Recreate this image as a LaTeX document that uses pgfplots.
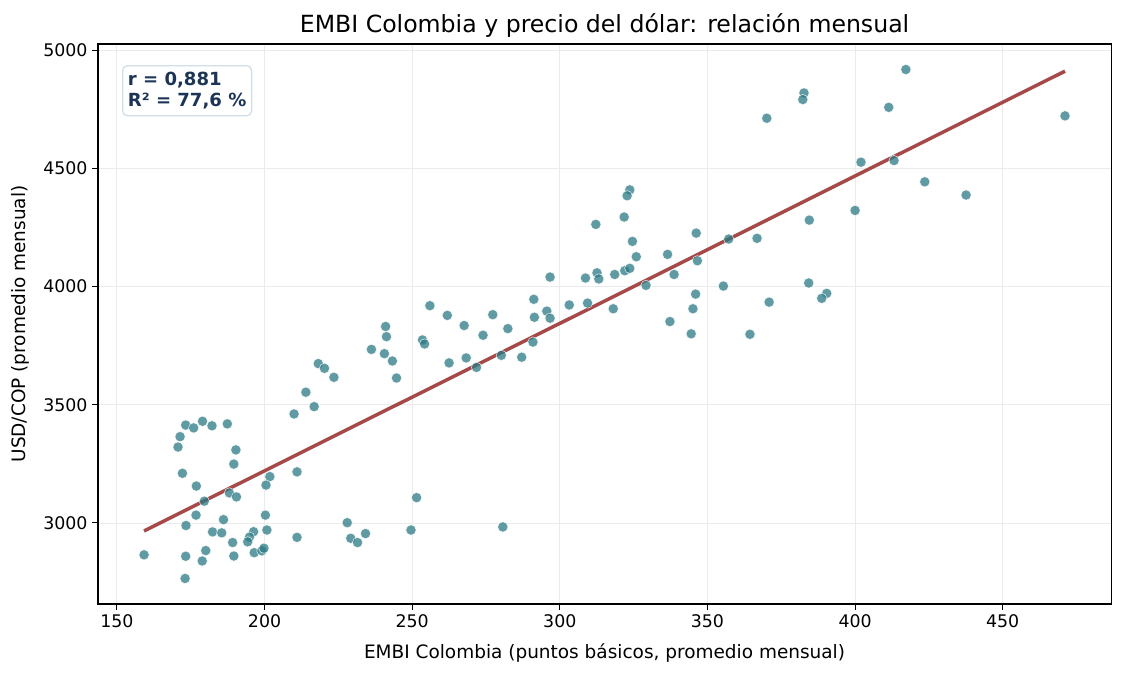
\documentclass[border=0pt]{standalone}
\usepackage{pgfplots}
\pgfplotsset{compat=1.18}
\usepackage{fontspec}
\setmainfont{DejaVu Sans}
\definecolor{pt}{HTML}{2B7A84}
\definecolor{fitc}{HTML}{A64949}
\definecolor{txtc}{HTML}{1C3557}
\definecolor{boxc}{HTML}{D0DEEA}
\definecolor{gridc}{HTML}{EBEBEB}
\begin{document}
\begin{tikzpicture}[x=1pt,y=1pt]
\begin{axis}[
  at={(0,0)}, anchor=south west,
  scale only axis=true,
  width=729.4pt, height=403.2pt,
  xmin=143.6, xmax=486.7, ymin=2657, ymax=5026,
  xtick={150,200,250,300,350,400,450},
  ytick={3000,3500,4000,4500,5000},
  /pgf/number format/assume math mode=true,
  /pgf/number format/set thousands separator={},
  tick label style={font=\fontsize{12.5}{15}\selectfont},
  tick align=outside, major tick length=4pt,
  tick style={black, line width=0.7pt},
  xtick pos=bottom, ytick pos=left,
  grid=major, major grid style={gridc, line width=0.6pt},
  axis line style={black, line width=0.8pt},
  title={EMBI Colombia y precio del dólar: relación mensual},
  title style={font=\fontsize{17}{20}\selectfont, yshift=-5pt},
  xlabel={EMBI Colombia (puntos básicos, promedio mensual)},
  ylabel={USD/COP (promedio mensual)},
  label style={font=\fontsize{13.3}{16}\selectfont},
  xlabel style={yshift=-4.5pt},
  ylabel style={yshift=3pt},
  clip=false,
]
\addplot[only marks, mark=*, mark size=3.7pt,
  mark options={fill=pt, fill opacity=0.75, draw=white, draw opacity=0.8, line width=0.4pt}]
coordinates {
(159.2,2865)(173.3,3414)(176.0,3402)(179.0,3430)(182.2,3411)(187.4,3419)
(171.4,3365)(170.7,3321)(190.3,3309)(189.6,3249)(172.2,3210)(176.9,3156)
(179.6,3092)(188.1,3127)(190.5,3110)(201.8,3196)(200.5,3160)(211.0,3216)
(210.0,3461)(176.8,3033)(173.4,2989)(186.1,3014)(182.4,2962)(185.5,2958)
(200.3,3033)(200.8,2970)(196.3,2963)(194.9,2940)(194.3,2920)(189.2,2917)
(180.1,2883)(173.3,2859)(178.9,2839)(189.6,2860)(196.5,2874)(199.1,2882)
(199.8,2893)(173.1,2765)(211.0,2939)
(256.0,3919)(241.0,3831)(241.3,3788)(236.2,3734)(240.6,3716)(243.3,3685)
(244.7,3613)(253.5,3774)(254.2,3757)(218.2,3674)(220.3,3654)(223.5,3616)
(214.0,3553)(216.8,3492)(251.5,3107)(228.0,3001)(229.2,2935)(231.5,2917)
(234.2,2955)(249.6,2970)
(323.7,4409)(322.8,4384)(312.2,4263)(321.8,4294)(324.6,4191)(325.9,4126)
(346.2,4226)(336.5,4136)(346.6,4109)(338.7,4051)(329.2,4005)(322.0,4067)
(323.7,4077)(318.6,4051)(312.6,4058)(313.2,4032)(308.7,4036)(296.7,4040)
(346.0,3968)(345.1,3906)(344.5,3800)(337.3,3852)(318.1,3906)(309.4,3930)
(303.2,3922)(291.2,3946)(295.6,3896)(296.7,3866)(291.4,3870)(290.9,3765)
(287.1,3701)(280.2,3709)(282.4,3822)(277.3,3881)(274.0,3794)(267.6,3835)
(261.9,3878)(262.5,3677)(268.3,3698)(271.8,3658)
(417.2,4918)(382.7,4819)(382.3,4791)(370.1,4712)(411.4,4758)(471.1,4722)
(402.0,4526)(413.2,4533)(423.6,4443)(437.6,4387)(400.0,4322)(384.5,4281)
(357.2,4201)(366.8,4204)(355.4,4002)(384.3,4015)(390.4,3971)(388.7,3950)
(370.9,3934)(364.4,3798)(280.7,2983)
};
\addplot[fitc, line width=2.5pt, no marks] coordinates {(159.2,2966)(471.1,4911)};
\node[anchor=north west, draw=boxc, line width=0.9pt, fill=white, rounded corners=3.5pt,
  inner xsep=3.8pt, inner ysep=5pt, align=left, text=txtc, font=\fontsize{13}{14.6}\selectfont\bfseries]
  at (rel axis cs:0.0237,0.9625) {r = 0,881\\R² = 77,6 \%};
\end{axis}
\useasboundingbox (-70.56pt,-50.4pt) rectangle (739.44pt,434.88pt);
\end{tikzpicture}
\end{document}
